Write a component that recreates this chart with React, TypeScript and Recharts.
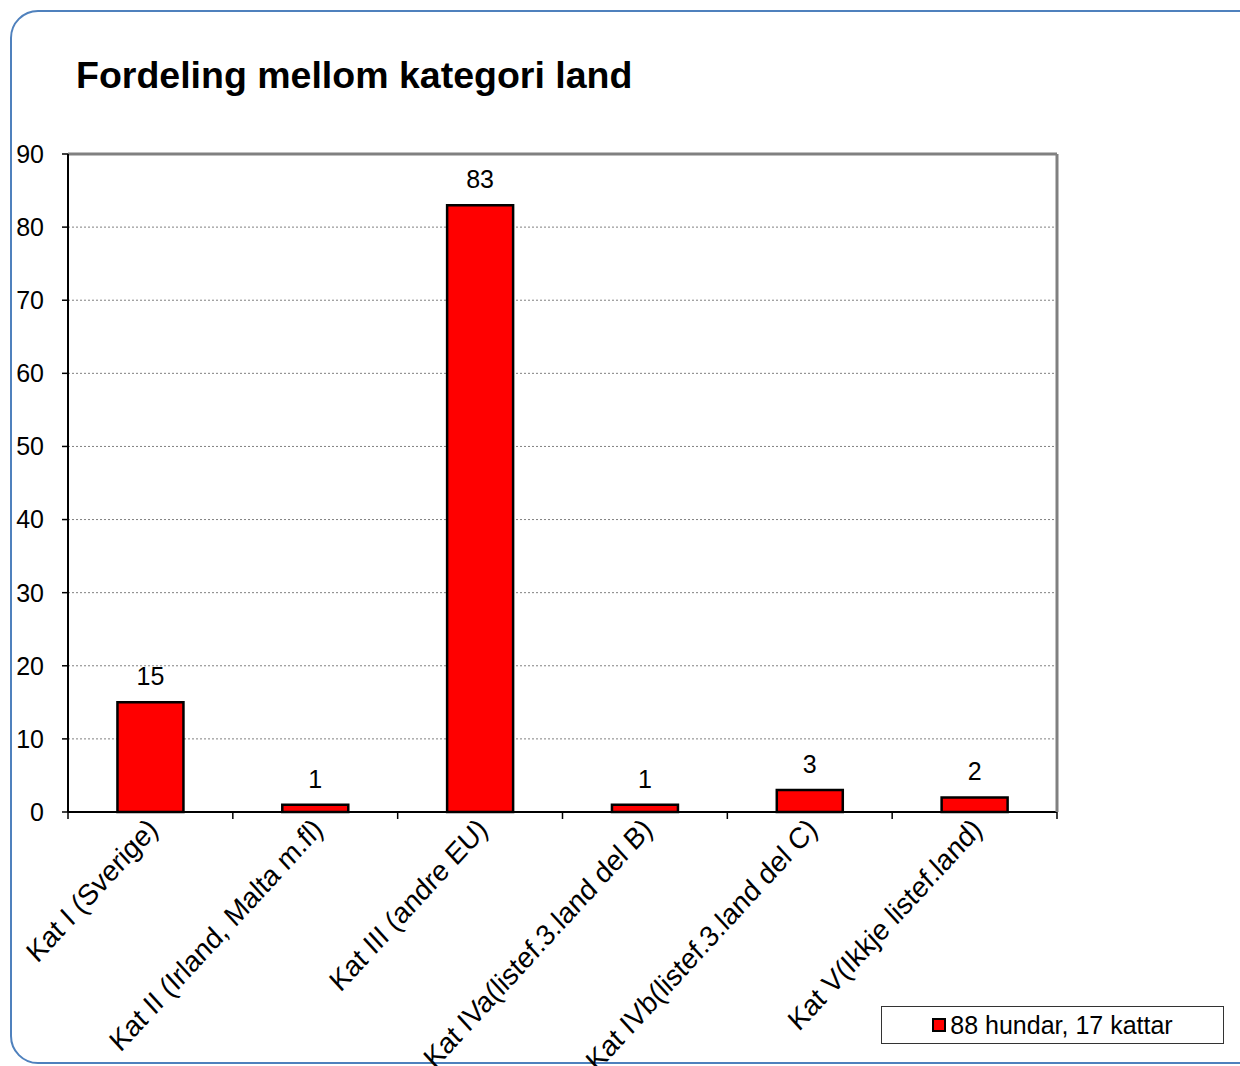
import { BarChart, Bar, XAxis, YAxis, CartesianGrid, ReferenceLine, LabelList } from "recharts";

const categories = [
  "Kat I (Sverige)",
  "Kat II (Irland, Malta m.fl)",
  "Kat III (andre EU)",
  "Kat IVa(listef.3.land del B)",
  "Kat IVb(listef.3.land del C)",
  "Kat V(Ikkje listef.land)",
];
const counts = [15, 1, 83, 1, 3, 2];
const yTicks = [0, 10, 20, 30, 40, 50, 60, 70, 80, 90];
const seriesName = "88 hundar, 17 kattar";
const title = "Fordeling mellom kategori land";

const data = categories.map((c, i) => ({ name: c, value: counts[i] }));

const CHART_W = 1240;
const CHART_H = 1066;
const MARGIN = { top: 154, right: 182, left: 10, bottom: 54 };
const YAXIS_W = 58;
const FRAME_W = 1;
const XAXIS_H = 200;
const BAND = (CHART_W - MARGIN.left - MARGIN.right - YAXIS_W - FRAME_W) / categories.length;
const FONT = "'Liberation Sans', Arial, sans-serif";

function CategoryTick(props: any) {
  const { x, y, payload, index } = props;
  const ax = x + 9;
  const ay = y + 19;
  return (
    <g>
      {index === 0 && (
        <line x1={x - BAND / 2} y1={y} x2={x - BAND / 2} y2={y + 7} stroke="#000" strokeWidth={1.5} />
      )}
      <line x1={x + BAND / 2} y1={y} x2={x + BAND / 2} y2={y + 7} stroke="#000" strokeWidth={1.5} />
      <text
        x={0}
        y={0}
        textAnchor="end"
        transform={`translate(${ax} ${ay}) scale(1 1.09) rotate(-45)`}
        fontSize={27}
        fontFamily={FONT}
        fill="#000"
      >
        {payload.value}
      </text>
    </g>
  );
}

export default function App() {
  return (
    <div
      style={{
        position: "fixed",
        left: 0,
        top: 0,
        width: CHART_W,
        height: CHART_H,
        overflow: "hidden",
        background: "#fff",
        fontFamily: FONT,
      }}
    >
      <div
        style={{
          position: "absolute",
          left: 10,
          top: 10,
          width: 1300,
          height: 1050,
          border: "2px solid #4f81bd",
          borderRadius: 28,
        }}
      />
      <div
        style={{
          position: "absolute",
          left: 76,
          top: 56,
          fontSize: 37.5,
          lineHeight: "38px",
          fontWeight: "bold",
          color: "#000",
          whiteSpace: "nowrap",
        }}
      >
        {title}
      </div>
      <div style={{ position: "absolute", left: 0, top: 0 }}>
        <BarChart width={CHART_W} height={CHART_H} data={data} margin={MARGIN} barCategoryGap="30%">
          <CartesianGrid vertical={false} stroke="#808080" strokeDasharray="2 2" strokeWidth={1} />
          <XAxis
            dataKey="name"
            interval={0}
            height={XAXIS_H}
            tickSize={0}
            tickMargin={0}
            tickLine={false}
            axisLine={{ stroke: "#000", strokeWidth: 2 }}
            tick={<CategoryTick />}
          />
          <YAxis
            domain={[0, 90]}
            ticks={yTicks}
            width={YAXIS_W}
            tickSize={6}
            tickMargin={18}
            interval={0}
            axisLine={{ stroke: "#000", strokeWidth: 2 }}
            tickLine={{ stroke: "#000", strokeWidth: 1.5 }}
            tick={{ fontSize: 25, fill: "#000", fontFamily: FONT }}
          />
          <YAxis
            yAxisId="frame"
            orientation="right"
            width={FRAME_W}
            domain={[0, 90]}
            ticks={[0, 90]}
            tick={false}
            tickLine={false}
            axisLine={{ stroke: "#808080", strokeWidth: 3 }}
          />
          <ReferenceLine y={90} stroke="#808080" strokeWidth={3} />
          <Bar dataKey="value" name={seriesName} fill="#ff0000" stroke="#000" strokeWidth={2.5} isAnimationActive={false}>
            <LabelList dataKey="value" position="top" offset={17} fontSize={25} fill="#000" fontFamily={FONT} />
          </Bar>
        </BarChart>
      </div>
      <div
        style={{
          position: "absolute",
          left: 881,
          top: 1006,
          width: 341,
          height: 36,
          border: "1px solid #333",
          display: "flex",
          alignItems: "center",
          justifyContent: "center",
          fontSize: 25,
          color: "#000",
        }}
      >
        <span
          style={{
            display: "inline-block",
            width: 10,
            height: 10,
            background: "#ff0000",
            border: "2px solid #000",
            marginRight: 4,
          }}
        />
        {seriesName}
      </div>
    </div>
  );
}
